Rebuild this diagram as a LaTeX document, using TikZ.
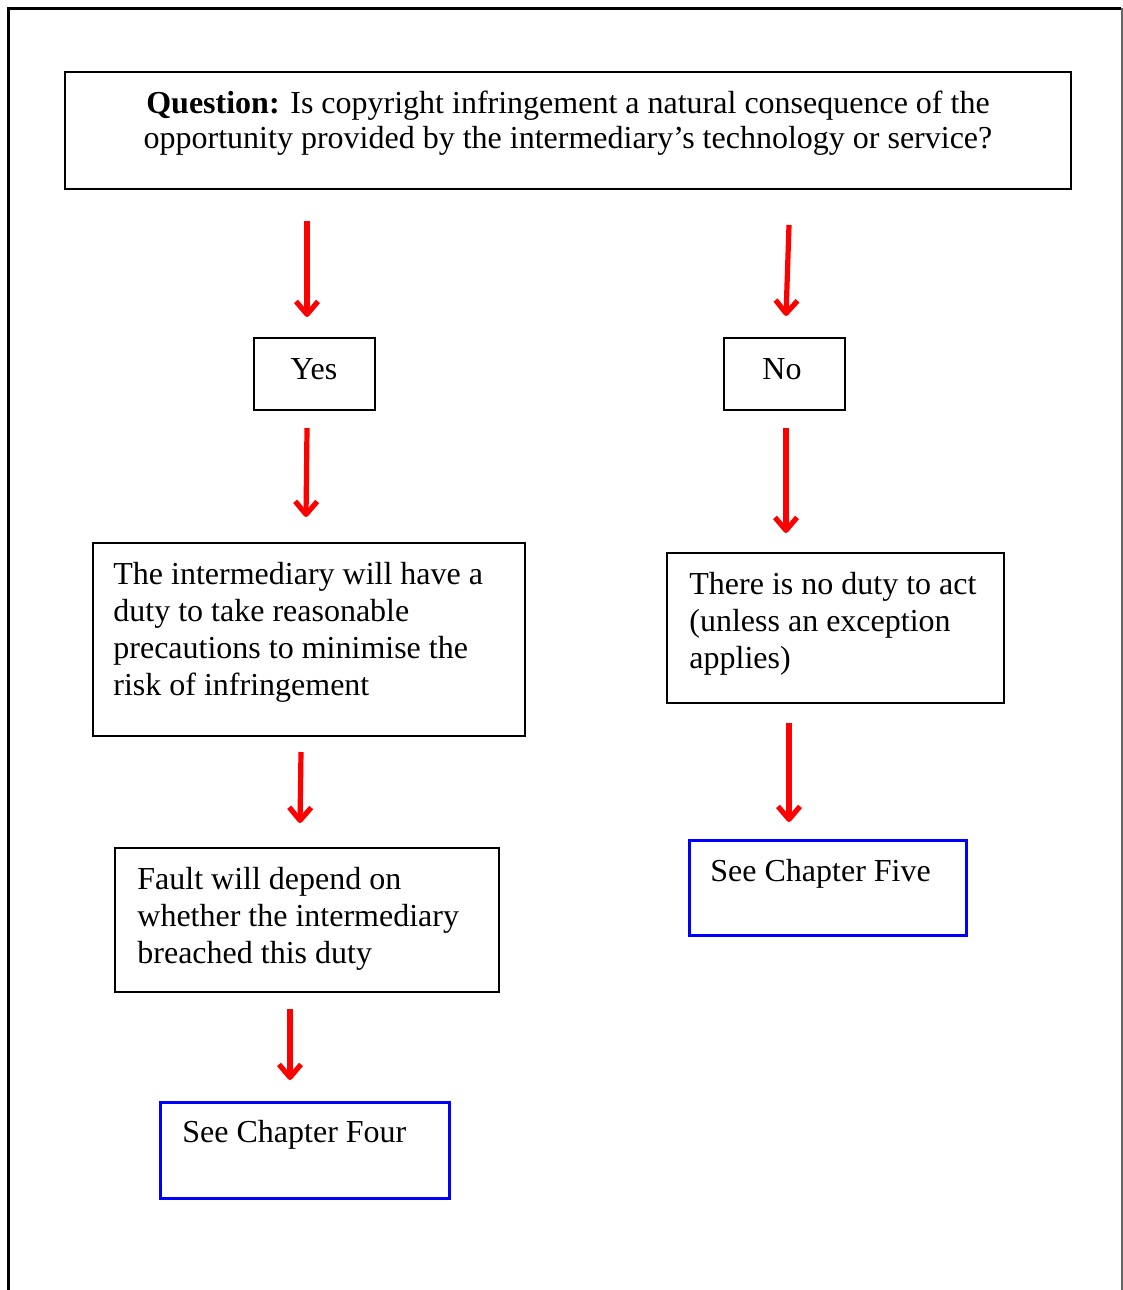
\documentclass[tikz,border=0pt]{standalone}
\usepackage{fontspec}
\setmainfont{Liberation Serif}
\usetikzlibrary{arrows.meta}
\begin{document}
\begin{tikzpicture}[x=0.5pt,y=-0.5pt,
  box/.style={draw=black,line width=1.45pt,inner sep=0pt,outer sep=0pt,anchor=north west},
  bluebox/.style={draw=blue,line width=1.5pt,inner sep=0pt,outer sep=0pt,anchor=north west},
  txt/.style={inner sep=0pt,align=left,anchor=north west,font=\fontsize{16}{18.4}\selectfont},
  arr/.style={draw=red,line width=2.6pt,-{Straight Barb[length=6.5pt,width=11pt,line join=round]}}]
\useasboundingbox (0,0) rectangle (1123,1290);
% page frame
\draw[line width=1.6pt] (8.5,1290) -- (8.5,8.5) -- (1121,8.5);
\draw[line width=1pt,draw=black!60] (1122,8) -- (1122,1290);
% boxes
\node[box,minimum width=503pt,minimum height=58.5pt] (q) at (65,72) {};
\node[box,minimum width=60.5pt,minimum height=36pt] (yes) at (254,338) {};
\node[box,minimum width=60.5pt,minimum height=36pt] (no) at (724,338) {};
\node[box,minimum width=216pt,minimum height=96.5pt] (a) at (93,543) {};
\node[box,minimum width=168.5pt,minimum height=75pt] (b) at (667,553) {};
\node[box,minimum width=192pt,minimum height=72pt] (c) at (115,848) {};
\node[bluebox,minimum width=144.5pt,minimum height=48pt] (d) at (160,1102) {};
\node[bluebox,minimum width=138.5pt,minimum height=47.5pt] (e) at (689,840) {};
% texts
\node[txt,align=center,anchor=north,font=\fontsize{16}{17.5}\selectfont] (qt) at (568,91)
  {\textbf{Question:} Is copyright infringement a natural consequence of the\\opportunity provided by the intermediary’s technology or service?};
\node[txt,anchor=base] (yest) at (314,379) {Yes};
\node[txt,anchor=base] (not) at (782,379) {No};
\node[txt] (at) at (113,562) {The intermediary will have a\\duty to take reasonable\\precautions to minimise the\\risk of infringement};
\node[txt] (bt) at (689,572) {There is no duty to act\\(unless an exception\\applies)};
\node[txt] (ct) at (137,867) {Fault will depend on\\whether the intermediary\\breached this duty};
\node[txt] (dt) at (182,1120) {See Chapter Four};
\node[txt] (et) at (710,859) {See Chapter Five};
% arrow end points
\coordinate (a1s) at (307,221); \coordinate (a1e) at (307,317);
\coordinate (a2s) at (789,225); \coordinate (a2e) at (786,316);
\coordinate (a3s) at (307,428); \coordinate (a3e) at (306,517);
\coordinate (a4s) at (786,428); \coordinate (a4e) at (786,533);
\coordinate (a5s) at (301,752); \coordinate (a5e) at (300,823);
\coordinate (a6s) at (789,723); \coordinate (a6e) at (789,822);
\coordinate (a7s) at (290,1009); \coordinate (a7e) at (290,1080);
\draw[arr] (a1s) -- (a1e);
\draw[arr] (a2s) -- (a2e);
\draw[arr] (a3s) -- (a3e);
\draw[arr] (a4s) -- (a4e);
\draw[arr] (a5s) -- (a5e);
\draw[arr] (a6s) -- (a6e);
\draw[arr] (a7s) -- (a7e);
\end{tikzpicture}
\end{document}
